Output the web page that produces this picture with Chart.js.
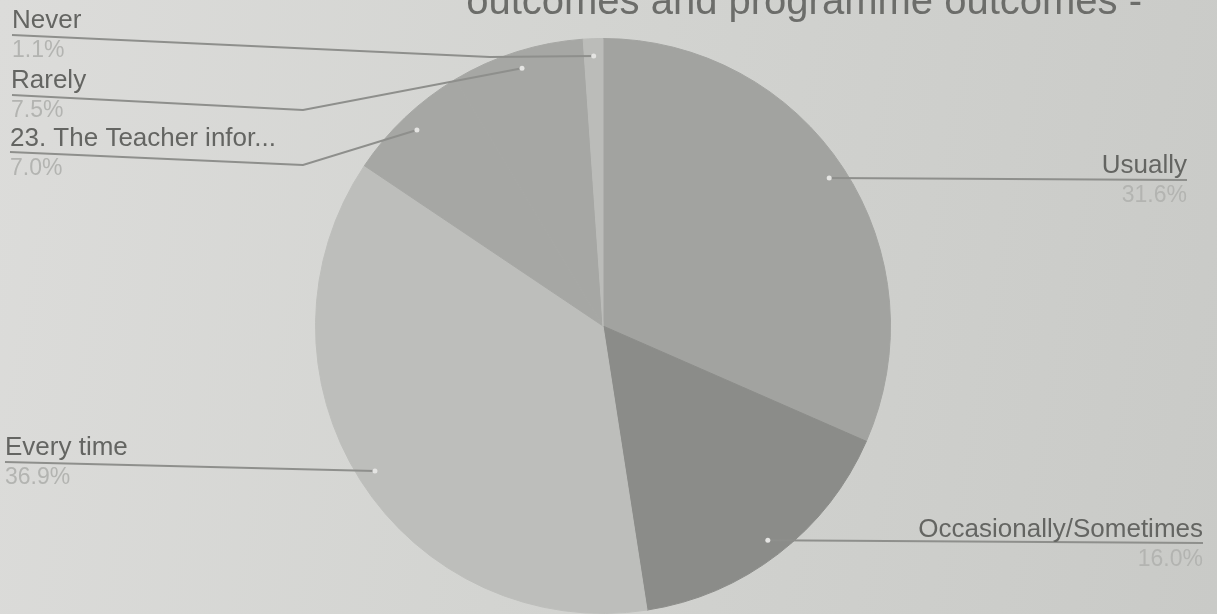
<!DOCTYPE html>
<html>
<head>
<meta charset="utf-8">
<script src="https://cdn.jsdelivr.net/npm/chart.js@4"></script>
<style>
    html, body {
        margin: 0;
        padding: 0;
        width: 1217px;
        height: 614px;
        overflow: hidden;
        background: linear-gradient(100deg, #dcdcda 0%, #d3d4d1 45%, #c9cac7 100%);
    }
    #wrap {
        position: relative;
        width: 1217px;
        height: 614px;
    }
</style>
</head>
<body>
<div id="wrap"><canvas id="pie" width="1217" height="614"></canvas></div>
<script>
const labels = [
    "Usually",
    "Occasionally/Sometimes",
    "Every time",
    "23. The Teacher infor...",
    "Rarely",
    "Never",
];
const values = [31.6, 16.0, 36.9, 7.0, 7.5, 1.1];
const pctLabels = ["31.6%", "16.0%", "36.9%", "7.0%", "7.5%", "1.1%"];
const titleText = "outcomes and programme outcomes -";

const sliceColors = ["#a2a3a0", "#8b8c89", "#bdbebb", "#a6a7a4", "#a6a7a4", "#bbbcb9"];

// where each label sits and how its leader line bends
const labelLayout = [
    { align: "right", x: 1187, y: 173, elbow: [[1187, 180]] },
    { align: "right", x: 1203, y: 537, elbow: [[1203, 543]] },
    { align: "left", x: 5, y: 455, elbow: [[5, 462]] },
    { align: "left", x: 10, y: 146, elbow: [[303, 165], [10, 152]] },
    { align: "left", x: 11, y: 88, elbow: [[303, 110], [12, 95]] },
    { align: "left", x: 12, y: 28, elbow: [[490, 57], [12, 35]] },
];

const labelPlugin = {
    id: "leaderLabels",
    afterDraw(chart) {
        const c = chart.ctx;
        const meta = chart.getDatasetMeta(0);
        c.save();
        // title, cut off by the top edge like in the photo
        c.font = "40px 'Liberation Sans', Arial, sans-serif";
        c.fillStyle = "#6c6d6a";
        c.textAlign = "right";
        c.textBaseline = "alphabetic";
        c.fillText(titleText, 1142, 14);

        meta.data.forEach((arc, i) => {
            const mid = (arc.startAngle + arc.endAngle) / 2;
            const r = arc.outerRadius * 0.94;
            const px = arc.x + Math.cos(mid) * r;
            const py = arc.y + Math.sin(mid) * r;
            const lay = labelLayout[i];

            c.strokeStyle = "#8e8f8c";
            c.lineWidth = 2;
            c.beginPath();
            c.moveTo(px, py);
            lay.elbow.forEach((p) => c.lineTo(p[0], p[1]));
            c.stroke();

            c.fillStyle = "#e4e4e2";
            c.beginPath();
            c.arc(px, py, 2.5, 0, Math.PI * 2);
            c.fill();

            c.textAlign = lay.align;
            c.font = "26px 'Liberation Sans', Arial, sans-serif";
            c.fillStyle = "#646562";
            c.fillText(labels[i], lay.x, lay.y);
            c.font = "23px 'Liberation Sans', Arial, sans-serif";
            c.fillStyle = "#b3b4b1";
            c.fillText(pctLabels[i], lay.x, lay.y + 29);
        });
        c.restore();
    },
};

new Chart(document.getElementById("pie").getContext("2d"), {
    type: "pie",
    data: {
        labels: labels,
        datasets: [{
            data: values,
            backgroundColor: sliceColors,
            borderColor: sliceColors,
            borderWidth: 1,
        }, ],
    },
    options: {
        responsive: false,
        animation: false,
        layout: {
            padding: { top: 38, bottom: 0, left: 0, right: 11 },
        },
        plugins: {
            legend: { display: false },
            tooltip: { enabled: false },
        },
    },
    plugins: [labelPlugin],
});
</script>
</body>
</html>
